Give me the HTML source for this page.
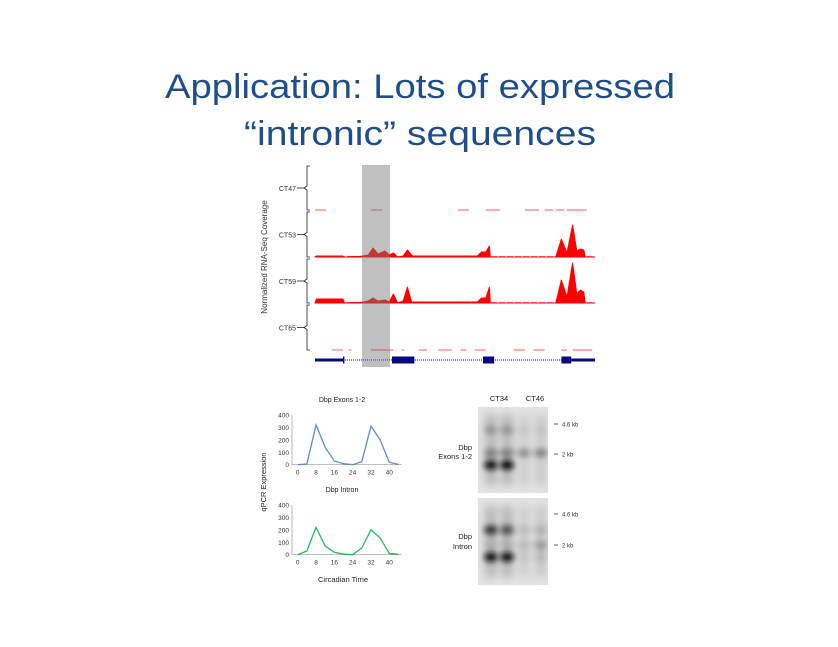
<!DOCTYPE html>
<html><head><meta charset="utf-8"><style>
html,body{margin:0;padding:0;background:#fff;}
svg{display:block;font-family:"Liberation Sans",Arial,sans-serif;}
</style></head><body>
<svg id="s" width="838" height="647" viewBox="0 0 838 647" xmlns="http://www.w3.org/2000/svg">
<defs>
<filter id="bl" x="-100%" y="-100%" width="300%" height="300%"><feGaussianBlur stdDeviation="3"/></filter>
<filter id="bl2" x="-100%" y="-20%" width="300%" height="140%"><feGaussianBlur stdDeviation="4"/></filter>
</defs>
<g fill="#1f4e8c" font-family="'Liberation Sans',sans-serif" font-size="34">
<text x="420" y="98" text-anchor="middle" textLength="510" lengthAdjust="spacingAndGlyphs">Application: Lots of expressed</text>
<text x="420" y="145" text-anchor="middle" textLength="352" lengthAdjust="spacingAndGlyphs">“intronic” sequences</text>
</g>
<text transform="translate(267,257) rotate(-90)" text-anchor="middle" font-size="8" fill="#333">Normalized RNA-Seq Coverage</text>
<g id="cov"></g>
<g id="gene"></g>
<rect x="362" y="165" width="28" height="202" fill="#7a7a7a" opacity="0.47"/>
<g id="qpcr"></g>
<g id="blot"></g>
</svg>
<script>
const NS="http://www.w3.org/2000/svg";
function mk(p,t,a){const e=document.createElementNS(NS,t);for(const k in a)e.setAttribute(k,a[k]);p.appendChild(e);return e;}
// ---------- Coverage tracks ----------
const trackNames=["CT47","CT53","CT59","CT65"];
const trackBaselines=[210,257,303,350];
const trackTops=[166,212,259,305];
// genomic position scale 0..100
const covPos=[0,0.5,10,10.5,11,13,16,19,20.7,22.5,25,26.5,28,29.5,31.5,33,34.5,35,57,58,59.5,61,62.3,62.6,63,85,86,88,90,92,93.5,94.8,96,96.5,100];
const covCT53=[0,1,1,0,0,0.5,0.5,2,9,3,6,2,4,0,1,7,2,1,1,1,5,5,11,0,0,0,0,18,4,32,6,8,7,0,0];
const covCT59=[0,4,4,0,0,0.5,0.5,2,5,2,3,1,9,0,2,16,1,1,1,1,5,5,16,0,0,0,0,23,6,40,9,13,11,0,0];
// low-coverage segments for CT47/CT65: [start,end]
const segCT47=[[0,4],[20,24],[51,55],[61,66],[75,80],[82,85],[86,89],[90,97]];
const segCT65=[[6,10],[12,13],[20,28],[31,32],[37,40],[44,49],[52,54],[57,61],[71,75],[78,82],[88,90],[92,99]];
const gx=v=>315+v*2.8;
const cov=document.getElementById('cov');
trackNames.forEach((n,i)=>{
  const b=trackBaselines[i],t=trackTops[i];
  const g=mk(cov,'g',{});
  
  
  const br=mk(g,'path',{d:`M310 ${t} h-3 v${(b-t)/2-2} l-3 2 l3 2 v${(b-t)/2-2} h3`,fill:'none',stroke:'#222','stroke-width':0.8});
  
  
  const lb=mk(g,'text',{x:296,y:(t+b)/2+3,'text-anchor':'end','font-size':7,fill:'#333'});
  lb.textContent=n;
  
  
  mk(g,'line',{x1:297,x2:304,y1:(t+b)/2,y2:(t+b)/2,stroke:'#222','stroke-width':0.8});
  if(i==1||i==2){
    const vals=i==1?covCT53:covCT59;
    mk(g,'line',{x1:gx(0),x2:gx(100),y1:b-0.5,y2:b-0.5,stroke:'#f88','stroke-width':1,'stroke-dasharray':'6 2'});
    let d=`M${gx(0)} ${b}`;
    covPos.forEach((p,j)=>{d+=` L${gx(p)} ${b-vals[j]}`;});
    d+=` L${gx(100)} ${b} Z`;
    const a=mk(g,'path',{d:d,fill:'#f00','stroke':'#f00','stroke-width':1,'stroke-linejoin':'round'});
    
    
  } else {
    const segs=i==0?segCT47:segCT65;
    segs.forEach(s=>{
      const l=mk(g,'line',{x1:gx(s[0]),x2:gx(s[1]),y1:b,y2:b,stroke:'#f77','stroke-width':1.2});
      
      
    });
  }
});
// gene model
const gene=document.getElementById('gene');
mk(gene,'line',{x1:315,x2:595,y1:360,y2:360,stroke:'#8080c8','stroke-width':2,'stroke-dasharray':'1 1'});
const exons=[[0,10.3,1.5],[10,10.5,3.5],[27.5,35.5,3.5],[60,64,3.5],[88,91.5,3.5],[91.5,100,1.5]];
exons.forEach(e=>{
  const r=mk(gene,'rect',{x:gx(e[0]),y:360-e[2],width:gx(e[1])-gx(e[0]),height:e[2]*2,fill:'#0a0a80'});
  
  
});
// ---------- qPCR ----------
const ctTimes=[0,4,8,12,16,20,24,28,32,36,40,44];
const exonVals=[0,5,320,140,30,8,0,25,310,200,20,3];
const intronVals=[0,30,220,70,20,5,0,55,200,135,10,3];
const yTicks=[0,100,200,300,400];
const xTicks=[0,8,16,24,32,40];
const qp=document.getElementById('qpcr');
function chart(name,title,vals,color,y0,titleY){
  const g=mk(qp,'g',{});
  
  
  const X=v=>297.7+v*2.29, Y=v=>y0-v*(49.7/400);
  const tt=mk(g,'text',{x:342,y:titleY,'text-anchor':'middle','font-size':7,fill:'#222'});tt.textContent=title;
  
  
  mk(g,'line',{x1:292,x2:292,y1:Y(400),y2:y0,stroke:'#999','stroke-width':0.7});
  mk(g,'line',{x1:292,x2:X(44)+3,y1:y0,y2:y0,stroke:'#999','stroke-width':0.7});
  yTicks.forEach(v=>{const t=mk(g,'text',{x:289,y:Y(v)+2.5,'text-anchor':'end','font-size':6.5,fill:'#333'});t.textContent=v;
    
    });
  xTicks.forEach(v=>{const t=mk(g,'text',{x:X(v),y:y0+10,'text-anchor':'middle','font-size':6.5,fill:'#333'});t.textContent=v;
    
    });
  const pl=mk(g,'polyline',{points:ctTimes.map((t,i)=>X(t)+','+Y(vals[i])).join(' '),fill:'none',stroke:color,'stroke-width':1.3});
  
  
}
chart('qpcr-exons-chart','Dbp Exons 1-2',exonVals,'#5b8fd0',464.7,402);
chart('qpcr-intron-chart','Dbp Intron',intronVals,'#1fbf55',554.7,492);
const ql=mk(qp,'text',{transform:'translate(266,482) rotate(-90)','text-anchor':'middle','font-size':7.5,fill:'#222'});ql.textContent='qPCR Expression';


const qx=mk(qp,'text',{x:343,y:582,'text-anchor':'middle','font-size':7.5,fill:'#222'});qx.textContent='Circadian Time';


// ---------- Northern blot ----------
const bl=document.getElementById('blot');
const laneX=[491,507,524,541];
const laneSmear=[0.45,0.45,0.2,0.25];
const topBands=[[0.25,0.4,0.95],[0.25,0.4,1.0],[0.05,0.35,0],[0.05,0.4,0]];
const botBands=[[0.75,0.1,0.95],[0.6,0.1,0.95],[0.1,0.12,0.05],[0.15,0.25,0.1]];
function panel(name,y,h,bands,ys){
  const g=mk(bl,'g',{});
  
  
  mk(g,'rect',{x:478,y:y,width:70,height:h,fill:'#e2e2e2'});
  const cg=mk(g,'g',{});
  const cp=mk(g,'clipPath',{id:'c'+name});mk(cp,'rect',{x:478,y:y,width:70,height:h});
  cg.setAttribute('clip-path','url(#c'+name+')');
  laneX.forEach((lx,i)=>{
    mk(cg,'rect',{x:lx-6,y:y+8,width:12,height:h-16,fill:'#888',opacity:laneSmear[i],filter:'url(#bl2)'});
    bands[i].forEach((v,j)=>{
      if(v<=0)return;
      const e=mk(cg,'ellipse',{cx:lx,cy:ys[j],rx:7,ry:j==2||name.includes('intron')?5:4,fill:'#111',opacity:v,filter:'url(#bl)'});
      
      
    });
  });
}
panel('blot-exons-panel',407,86,topBands,[430,453,465]);
panel('blot-intron-panel',498,87,botBands,[530,545,557]);
const labels=[['CT34',499,401,'middle'],['CT46',535,401,'middle'],['Dbp',472,450,'end'],['Exons 1-2',472,459,'end'],['Dbp',472,539,'end'],['Intron',472,549,'end']];
labels.forEach(l=>{const t=mk(bl,'text',{x:l[1],y:l[2],'text-anchor':l[3],'font-size':7.5,fill:'#222'});t.textContent=l[0];
  
  });
[['4.6 kb',424],['2 kb',454],['4.6 kb',514],['2 kb',545]].forEach(m=>{
  mk(bl,'line',{x1:554,x2:558,y1:m[1],y2:m[1],stroke:'#333','stroke-width':0.8});
  const t=mk(bl,'text',{x:562,y:m[1]+2.5,'font-size':6,fill:'#333'});t.textContent=m[0];
  
  
});
</script>
</body></html>
